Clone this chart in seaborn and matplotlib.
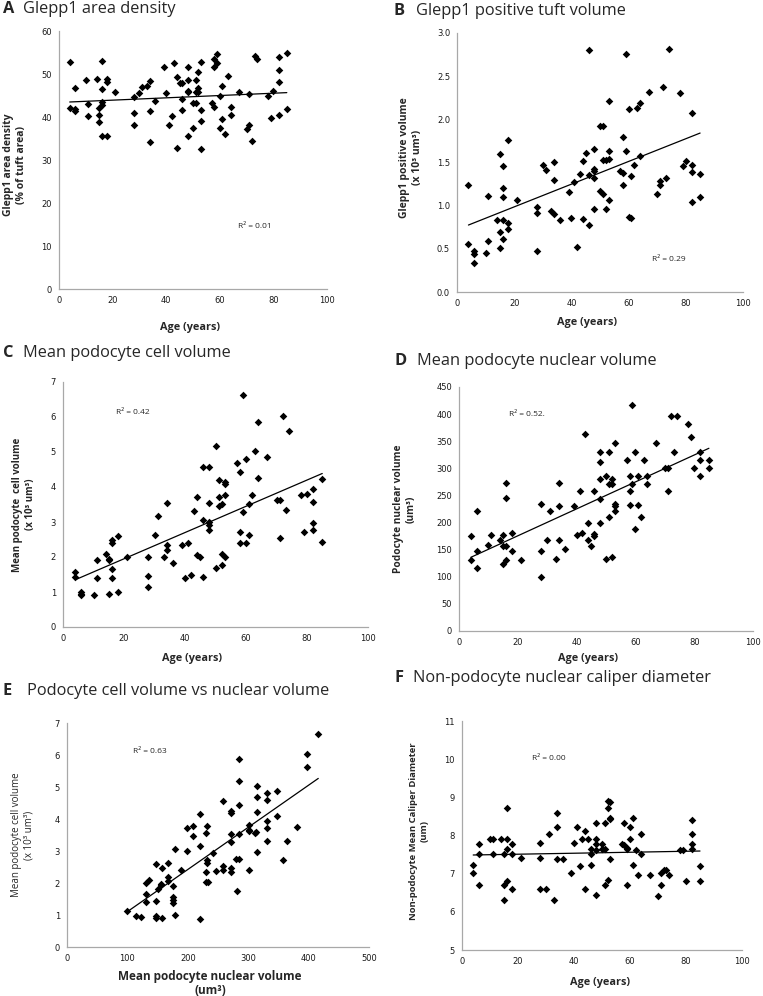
import matplotlib
matplotlib.use("Agg")
import matplotlib.pyplot as plt
import seaborn as sns

# ---- data ----
a_age = [4, 4, 6, 6, 6, 10, 11, 11, 14, 15, 15, 15, 16, 16, 16, 16, 16, 18, 18, 18, 21, 28, 28, 28, 30, 31, 33,
         34, 34, 34, 36, 39, 40, 41, 42, 43, 44, 44, 45, 46, 46, 46, 48, 48, 48, 48, 48, 50, 50, 51, 51, 51, 52,
         52, 52, 53, 53, 53, 53, 57, 58, 58, 58, 59, 59, 60, 60, 61, 61, 62, 63, 64, 64, 67, 70, 71, 71, 72, 73,
         74, 78, 79, 80, 82, 82, 82, 82, 85, 85]
a_val = [52.7, 42.2, 46.7, 41.8, 41.4, 48.7, 43.1, 40.2, 48.8, 42.2, 40.5, 38.8, 53.0, 46.4, 43.6, 42.9, 35.5,
         48.8, 48.1, 35.5, 45.7, 44.7, 40.9, 38.2, 45.6, 46.9, 47.1, 48.4, 41.4, 34.1, 43.7, 51.6, 45.5, 38.2,
         40.2, 52.6, 49.3, 32.8, 47.8, 47.8, 44.3, 41.6, 51.7, 48.6, 46.1, 45.7, 35.5, 37.4, 43.3, 48.6, 45.7,
         43.3, 50.5, 46.7, 45.7, 52.7, 41.6, 39.1, 32.6, 43.3, 53.6, 51.7, 42.3, 54.6, 52.5, 44.8, 37.5, 47.1,
         39.5, 36.0, 49.5, 42.3, 40.4, 45.7, 37.2, 45.3, 38.2, 34.4, 54.3, 53.4, 44.8, 39.7, 46.0, 54.0, 50.9,
         48.1, 40.5, 55.0, 41.9]

b_age = [4, 4, 6, 6, 6, 10, 11, 11, 14, 15, 15, 15, 16, 16, 16, 16, 16, 18, 18, 18, 21, 28, 28, 28, 30, 31, 33,
         34, 34, 34, 36, 39, 40, 41, 42, 43, 44, 44, 45, 46, 46, 46, 48, 48, 48, 48, 48, 50, 50, 51, 51, 51, 52,
         52, 53, 53, 53, 53, 57, 58, 58, 58, 59, 59, 60, 60, 61, 61, 62, 63, 64, 64, 67, 70, 71, 71, 72, 73, 74,
         78, 79, 80, 82, 82, 82, 82, 85, 85]
b_val = [1.24, 0.56, 0.48, 0.44, 0.34, 0.45, 1.11, 0.59, 0.83, 1.60, 0.69, 0.51, 1.46, 1.21, 1.10, 0.83, 0.61,
         1.76, 0.80, 0.73, 1.07, 0.98, 0.92, 0.47, 1.47, 1.41, 0.94, 1.51, 1.30, 0.90, 0.83, 1.16, 0.86, 1.27,
         0.52, 1.37, 1.52, 0.84, 1.61, 2.80, 1.36, 0.78, 1.66, 1.43, 1.40, 1.32, 0.96, 1.92, 1.17, 1.92, 1.53,
         1.13, 1.53, 0.96, 2.21, 1.63, 1.54, 1.07, 1.40, 1.38, 1.79, 1.24, 2.76, 1.63, 2.12, 0.87, 1.34, 0.86,
         1.47, 2.13, 2.19, 1.57, 2.32, 1.13, 1.24, 1.29, 2.37, 1.32, 2.82, 2.31, 1.46, 1.52, 2.07, 1.47, 1.39,
         1.04, 1.37, 1.10]

c_age = [4, 4, 6, 6, 6, 10, 11, 11, 14, 15, 15, 15, 16, 16, 16, 16, 18, 18, 21, 28, 28, 28, 30, 31, 33, 34, 34,
         34, 36, 39, 40, 41, 42, 43, 44, 44, 45, 46, 46, 46, 48, 48, 48, 48, 48, 50, 50, 51, 51, 51, 52, 52, 52,
         53, 53, 53, 53, 57, 58, 58, 58, 59, 59, 60, 60, 61, 61, 62, 63, 64, 64, 67, 70, 71, 71, 72, 73, 74, 78,
         79, 80, 82, 82, 82, 82, 85, 85]
c_val = [1.56, 1.43, 1.00, 0.95, 0.90, 0.90, 1.92, 1.39, 2.08, 1.95, 1.90, 0.94, 2.49, 2.40, 1.65, 1.40, 2.59,
         0.99, 2.00, 2.00, 1.46, 1.14, 2.63, 3.16, 2.00, 3.55, 2.33, 2.19, 1.82, 2.35, 1.40, 2.40, 1.49, 3.32,
         3.72, 2.05, 1.99, 4.56, 3.06, 1.42, 4.56, 3.55, 2.99, 2.92, 2.76, 5.18, 1.68, 4.20, 3.72, 3.47, 3.52,
         2.09, 1.76, 4.15, 4.08, 3.78, 2.00, 4.69, 4.43, 2.72, 2.40, 6.63, 3.28, 4.81, 2.40, 3.52, 2.62, 3.78,
         5.03, 5.85, 4.27, 4.86, 3.64, 3.62, 2.54, 6.02, 3.33, 5.61, 3.76, 2.70, 3.79, 3.94, 3.58, 2.97, 2.76,
         4.22, 2.43]

d_age = [4, 4, 6, 6, 6, 10, 11, 14, 15, 15, 15, 16, 16, 16, 16, 18, 18, 21, 28, 28, 28, 30, 31, 33, 34, 34, 34,
         36, 39, 40, 41, 42, 43, 44, 44, 45, 46, 46, 46, 48, 48, 48, 48, 48, 50, 50, 51, 51, 51, 52, 52, 52, 53,
         53, 53, 53, 57, 58, 58, 58, 59, 59, 60, 60, 61, 61, 62, 63, 64, 64, 67, 70, 71, 71, 72, 73, 74, 78, 79,
         80, 82, 82, 82, 85, 85]
d_val = [176, 131, 221, 148, 116, 158, 177, 167, 177, 156, 123, 273, 246, 156, 131, 180, 148, 131, 234, 148, 100,
         167, 222, 132, 273, 230, 167, 151, 230, 177, 259, 180, 363, 199, 167, 156, 259, 179, 176, 331, 311, 281,
         243, 199, 286, 132, 331, 272, 211, 281, 272, 137, 347, 234, 230, 222, 315, 286, 259, 233, 417, 272, 331,
         188, 286, 233, 211, 315, 286, 272, 347, 300, 300, 259, 397, 331, 397, 381, 357, 300, 331, 315, 286, 315,
         300]

e_nuc = [100, 114, 122, 130, 130, 130, 136, 147, 147, 147, 147, 150, 155, 155, 157, 157, 167, 167, 167, 176, 176,
         176, 176, 179, 179, 188, 198, 198, 209, 209, 221, 221, 221, 230, 230, 230, 233, 232, 232, 232, 242, 246,
         258, 258, 258, 272, 272, 272, 272, 272, 272, 281, 280, 284, 285, 285, 285, 285, 301, 301, 301, 301, 311,
         313, 315, 315, 315, 315, 331, 331, 331, 331, 331, 347, 347, 357, 364, 381, 397, 397, 416]
e_cell = [1.13, 0.98, 0.94, 1.66, 1.42, 2.00, 2.08, 2.59, 1.45, 0.97, 0.92, 1.81, 1.97, 1.94, 2.46, 0.90, 2.62,
          2.18, 2.07, 1.91, 1.55, 1.47, 1.39, 3.05, 0.99, 2.41, 3.73, 3.00, 3.78, 3.47, 4.17, 3.16, 0.89, 3.55,
          2.35, 2.02, 2.02, 3.78, 2.73, 2.63, 2.93, 2.38, 4.57, 2.54, 2.40, 4.25, 4.18, 3.53, 3.28, 2.48, 2.33,
          1.76, 2.75, 2.75, 5.86, 5.19, 4.44, 3.53, 3.80, 3.65, 3.62, 2.42, 3.55, 3.58, 5.04, 4.70, 4.22, 2.98,
          4.81, 4.58, 3.94, 3.73, 3.32, 4.87, 4.08, 2.71, 3.32, 3.76, 6.03, 5.63, 6.66]

f_age = [4, 4, 6, 6, 6, 10, 11, 11, 14, 15, 15, 15, 16, 16, 16, 16, 18, 18, 18, 21, 28, 28, 28, 30, 31, 33, 34,
         34, 34, 36, 39, 40, 41, 42, 43, 44, 44, 45, 46, 46, 46, 48, 48, 48, 48, 48, 50, 50, 51, 51, 51, 52, 52,
         52, 53, 53, 53, 53, 57, 58, 58, 59, 59, 59, 60, 60, 61, 61, 62, 63, 64, 64, 67, 70, 71, 71, 72, 73, 74,
         78, 79, 80, 82, 82, 82, 82, 85, 85]
f_val = [7.24, 7.01, 7.78, 7.51, 6.71, 7.91, 7.91, 7.51, 7.91, 7.51, 6.71, 6.31, 8.72, 7.91, 7.64, 6.81, 7.78,
         7.51, 6.61, 7.41, 7.80, 7.41, 6.61, 6.61, 8.05, 6.31, 8.59, 8.21, 7.38, 7.38, 7.01, 7.80, 8.21, 7.21,
         7.91, 8.11, 6.61, 7.91, 7.64, 7.51, 7.24, 8.32, 7.91, 7.78, 7.62, 6.44, 7.78, 7.64, 8.32, 7.64, 6.71,
         8.72, 8.91, 6.84, 8.89, 8.45, 8.42, 7.38, 7.78, 7.74, 8.32, 7.68, 7.64, 6.71, 8.21, 7.91, 8.45, 7.24,
         7.61, 6.97, 8.05, 7.51, 6.97, 6.41, 7.01, 6.71, 7.10, 7.10, 6.97, 7.62, 7.62, 6.81, 8.41, 8.05, 7.78,
         7.64, 7.21, 6.81]

r2_labels = ["R² = 0.01", "R² = 0.29", "R² = 0.42", "R² = 0.52.", "R² = 0.63", "R² = 0.00"]

sns.set_style("white")
plt.rcParams['font.family'] = ['Open Sans', 'DejaVu Sans']

W, H = 763, 996
fig = plt.figure(figsize=(W / 100, H / 100), dpi=100)

TICK_FS = 6
R2_FS = 6
LAB_FS = 7.8
TITLE_FS = 11.8


def make_axes(l, t, r, b):
    return fig.add_axes([l / W, 1 - b / H, (r - l) / W, (b - t) / H])


def panel(ax, x, y, xlim, ylim, xticks, yticks, yfmt=None):
    sns.regplot(x=x, y=y, ax=ax, ci=None, marker='D',
                scatter_kws=dict(s=15, color='black', linewidths=0, alpha=1),
                line_kws=dict(color='black', lw=0.9))
    ax.set_xlim(xlim)
    ax.set_ylim(ylim)
    ax.set_xticks(xticks)
    ax.set_yticks(yticks)
    if yfmt:
        ax.set_yticklabels([yfmt % v for v in yticks])
    for s in ['top', 'right']:
        ax.spines[s].set_visible(False)
    for s in ['left', 'bottom']:
        ax.spines[s].set_color('#a8a8a8')
        ax.spines[s].set_linewidth(0.9)
    ax.tick_params(axis='both', direction='out', length=2.5, width=0.8, color='#a8a8a8',
                   labelsize=TICK_FS, labelcolor='#1a1a1a', labelfontfamily='DejaVu Sans', pad=2.5)


def title(xl, xt, yb, letter, text, size=TITLE_FS):
    fig.text(xl / W, 1 - yb / H, letter, fontsize=size, fontweight='bold', va='baseline')
    fig.text(xt / W, 1 - yb / H, text, fontsize=size, va='baseline')


ages = list(range(0, 101, 20))

# A
axA = make_axes(59, 31, 327, 289)
panel(axA, a_age, a_val, (0, 100), (0, 60), ages, list(range(0, 61, 10)))
axA.set_ylabel("Glepp1 area density\n(% of tuft area)", fontsize=7.5, fontweight='bold', va='center')
axA.yaxis.set_label_coords(-44 / 268, 0.48)
axA.set_xlabel("Age (years)", fontsize=LAB_FS, fontweight='bold', va='center')
axA.xaxis.set_label_coords(0.49, -38 / 258)
axA.text(73, 14.6, r2_labels[0], fontsize=R2_FS, ha='center', va='center')
title(3, 23, 13, "A", "Glepp1 area density")

# B
axB = make_axes(457, 33, 743, 292)
panel(axB, b_age, b_val, (0, 100), (0, 3.0), ages, [0, 0.5, 1.0, 1.5, 2.0, 2.5, 3.0], yfmt="%.1f")
axB.set_ylabel("Glepp1 positive volume\n(x 10³ um³)", fontsize=7.5, fontweight='bold', va='center')
axB.yaxis.set_label_coords(-46 / 286, 0.52)
axB.set_xlabel("Age (years)", fontsize=LAB_FS, fontweight='bold', va='center')
axB.xaxis.set_label_coords(0.455, -31 / 259)
axB.text(74, 0.38, r2_labels[1], fontsize=R2_FS, ha='center', va='center')
title(393, 416, 15, "B", "Glepp1 positive tuft volume")

# C
axC = make_axes(63, 382, 368, 627)
panel(axC, c_age, c_val, (0, 100), (0, 7), ages, list(range(0, 8)))
axC.set_ylabel("Mean podocyte  cell volume\n(x 10³ um³)", fontsize=7, fontweight='bold', va='center')
axC.yaxis.set_label_coords(-39 / 305, 0.5)
axC.set_xlabel("Age (years)", fontsize=LAB_FS, fontweight='bold', va='center')
axC.xaxis.set_label_coords(0.423, -31 / 245)
axC.text(23, 6.14, r2_labels[2], fontsize=R2_FS, ha='center', va='center')
title(3, 23, 357, "C", "Mean podocyte cell volume")

# D
axD = make_axes(459, 387, 753, 631)
panel(axD, d_age, d_val, (0, 100), (0, 450), ages, list(range(0, 451, 50)))
axD.set_ylabel("Podocyte nuclear volume\n(um³)", fontsize=7.3, fontweight='bold', va='center')
axD.yaxis.set_label_coords(-54 / 294, 0.5)
axD.set_xlabel("Age (years)", fontsize=LAB_FS, fontweight='bold', va='center')
axD.xaxis.set_label_coords(0.439, -27 / 244)
axD.text(23, 400, r2_labels[3], fontsize=R2_FS, ha='center', va='center')
title(395, 417, 365, "D", "Mean podocyte nuclear volume")

# E
axE = make_axes(67, 723, 369, 947)
panel(axE, e_nuc, e_cell, (0, 500), (0, 7), list(range(0, 501, 100)), list(range(0, 8)))
axE.set_ylabel("Mean podocyte cell volume\n(x 10³ um³)", fontsize=7, va='center')
axE.yaxis.set_label_coords(-44 / 302, 0.5)
axE.set_xlabel("Mean podocyte nuclear volume\n(um³)", fontsize=8.5, fontweight='bold', va='center',
               linespacing=1.1)
axE.xaxis.set_label_coords(0.474, -36 / 224)
axE.text(137, 6.1, r2_labels[4], fontsize=R2_FS, ha='center', va='center')
title(3, 27, 695, "E", "Podocyte cell volume vs nuclear volume")

# F
axF = make_axes(462, 721, 742, 950)
panel(axF, f_age, f_val, (0, 100), (5, 11), ages, list(range(5, 12)))
axF.set_ylabel("Non-podocyte Mean Caliper Diameter\n(um)", fontsize=6.8, fontweight='bold', va='center')
axF.yaxis.set_label_coords(-43 / 280, 0.52)
axF.set_xlabel("Age (years)", fontsize=LAB_FS, fontweight='bold', va='center')
axF.xaxis.set_label_coords(0.493, -32 / 229)
axF.text(31, 10.03, r2_labels[5], fontsize=R2_FS, ha='center', va='center')
title(394, 413, 682, "F", "Non-podocyte nuclear caliper diameter")

fig.savefig("out.png", dpi=100)
